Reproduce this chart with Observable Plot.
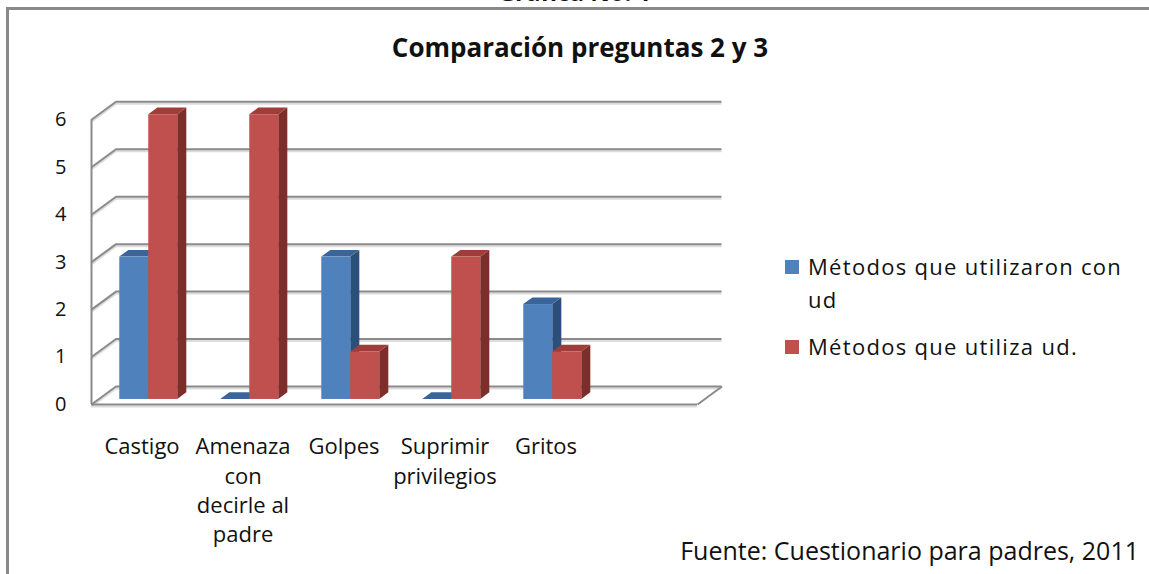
<!DOCTYPE html>
<html><head><meta charset="utf-8">
<script src="https://cdn.jsdelivr.net/npm/d3@7"></script>
<script src="https://cdn.jsdelivr.net/npm/@observablehq/plot@0.6"></script>
<style>
html,body{margin:0;padding:0;background:#fff;overflow:hidden;width:1149px;height:574px;}
body{position:relative;font-family:"Open Sans",sans-serif;color:#111;}
#frame{position:absolute;left:6px;top:7px;width:1300px;height:800px;border:3px solid #8a8a8a;box-sizing:border-box;}
#top{position:absolute;left:0;width:1149px;top:-20px;text-align:center;font-weight:bold;font-size:24px;line-height:24px;}
#title{position:absolute;left:0;width:1160px;top:30px;text-align:center;font-weight:bold;font-size:26px;line-height:34px;}
#chart{position:absolute;left:0;top:0;}
#legend{position:absolute;left:785px;top:250px;font-size:22px;line-height:33px;letter-spacing:1.3px;}
.item{display:flex;align-items:flex-start;margin-bottom:14px;}
.sw{width:14px;height:14px;margin-top:10px;margin-right:9px;flex:none;}
.lab{width:325px;}
#caption{position:absolute;right:10px;top:534px;font-size:25px;line-height:32px;}
</style></head>
<body>
<div id="frame"></div>
<div id="top">Gráfica No. 1</div>
<div id="title">Comparación preguntas 2 y 3</div>
<div id="chart"></div>
<div id="legend"></div>
<div id="caption">Fuente: Cuestionario para padres, 2011</div>
<script>
// ---- data ----
const categories = ["Castigo", "Amenaza con decirle al padre", "Golpes", "Suprimir privilegios", "Gritos", ""];
const tickLabels = ["Castigo", "Amenaza\ncon\ndecirle al\npadre", "Golpes", "Suprimir\nprivilegios", "Gritos", ""];
const seriesNames = ["Métodos que utilizaron con ud", "Métodos que utiliza ud."];
const valuesUtilizaronConUd = [3, 0, 3, 0, 2, null];
const valuesUtilizaUd = [6, 6, 1, 3, 1, null];
const yTicks = [0, 1, 2, 3, 4, 5, 6];

// ---- styles ----
const frontColors = ["#4F81BD", "#C0504D"];
const topColors = ["#3A659A", "#9E3D3A"];
const sideColors = ["#2B4E7A", "#7C2E2B"];
const gridColor = "#8a8a8a";

// oblique projection (depth offsets in data units)
const DX = 24.5 / 101;      // full depth, x
const DY = 18 / 47.45;      // full depth, y
const D0 = 0.28, D1 = 0.65; // bar front/back depth fractions
const BAR_W = 0.287, BAR_START = 0.212;

const seriesValues = [valuesUtilizaronConUd, valuesUtilizaUd];
const bars = [];
seriesValues.forEach((vals, s) => {
  vals.forEach((v, i) => {
    if (v == null) return;
    const xl = i + BAR_START + s * BAR_W, xr = xl + BAR_W;
    bars.push({id: s + "-" + i, s, i, v, xl, xr, cat: categories[i]});
  });
});

function barMarks(s) {
  const bs = bars.filter(b => b.s === s);
  const side = bs.flatMap(b => [
    {id: b.id, x: b.xr + D0 * DX, y1: D0 * DY, y2: b.v + D0 * DY},
    {id: b.id, x: b.xr + D1 * DX, y1: D1 * DY, y2: b.v + D1 * DY}
  ]);
  const top = bs.flatMap(b => [
    {id: b.id, y: b.v + D0 * DY, x1: b.xl + D0 * DX, x2: b.xr + D0 * DX},
    {id: b.id, y: b.v + D1 * DY, x1: b.xl + D1 * DX, x2: b.xr + D1 * DX}
  ]);
  return [
    Plot.areaY(side, {x: "x", y1: "y1", y2: "y2", z: "id", fill: sideColors[s]}),
    Plot.areaX(top, {y: "y", x1: "x1", x2: "x2", z: "id", fill: topColors[s]}),
    Plot.rect(bs, {x1: b => b.xl + D0 * DX, x2: b => b.xr + D0 * DX, y1: D0 * DY, y2: b => b.v + D0 * DY, fill: frontColors[s]})
  ];
}

const xLabels = tickLabels.map((label, i) => ({x: i + 0.5, label}));

const chart = Plot.plot({
  width: 1149,
  height: 574,
  marginLeft: 91,
  marginRight: 452,
  marginTop: 100.3,
  marginBottom: 170,
  x: {domain: [0, 6], axis: null},
  y: {domain: [0, 6.4], axis: null},
  style: {fontFamily: "'Open Sans', sans-serif", fontSize: "20px", background: "transparent", color: "#111", overflow: "visible"},
  marks: [
    // light shadow of gridlines
    Plot.ruleY(yTicks, {y: t => t + DY, x1: DX, x2: 6 + DX, stroke: "#dcdcdc", strokeWidth: 2, dy: 2}),
    Plot.link(yTicks, {x1: 0, y1: t => t, x2: DX, y2: t => t + DY, stroke: "#dcdcdc", strokeWidth: 2, dy: 2}),
    // back wall gridlines
    Plot.ruleY(yTicks, {y: t => t + DY, x1: DX, x2: 6 + DX, stroke: gridColor, strokeWidth: 2}),
    // side wall diagonals
    Plot.link(yTicks, {x1: 0, y1: t => t, x2: DX, y2: t => t + DY, stroke: gridColor, strokeWidth: 2}),
    // side wall front edge
    Plot.ruleX([0], {y1: 0, y2: 6, stroke: gridColor, strokeWidth: 2}),
    // floor
    Plot.ruleY([0], {x1: 0, x2: 6, stroke: "#dcdcdc", strokeWidth: 2, dy: 2}),
    Plot.ruleY([0], {x1: 0, x2: 6, stroke: gridColor, strokeWidth: 2}),
    Plot.link([0], {x1: 6, y1: 0, x2: 6 + DX, y2: DY, stroke: gridColor, strokeWidth: 2}),
    ...barMarks(0),
    ...barMarks(1),
    Plot.axisY(yTicks, {tickSize: 0, tickPadding: 25, fontSize: 20, tickFormat: d => String(d)}),
    Plot.text(xLabels, {x: "x", y: 0, text: "label", lineAnchor: "top", dy: 29, lineHeight: 1.33, fontSize: 22})
  ]
});
document.getElementById("chart").appendChild(chart);

// legend
const legend = document.getElementById("legend");
seriesNames.forEach((name, s) => {
  const item = document.createElement("div");
  item.className = "item";
  const sw = document.createElement("div");
  sw.className = "sw";
  sw.style.background = frontColors[s];
  const lab = document.createElement("div");
  lab.className = "lab";
  lab.textContent = name;
  item.appendChild(sw); item.appendChild(lab);
  legend.appendChild(item);
});
</script>
</body></html>
